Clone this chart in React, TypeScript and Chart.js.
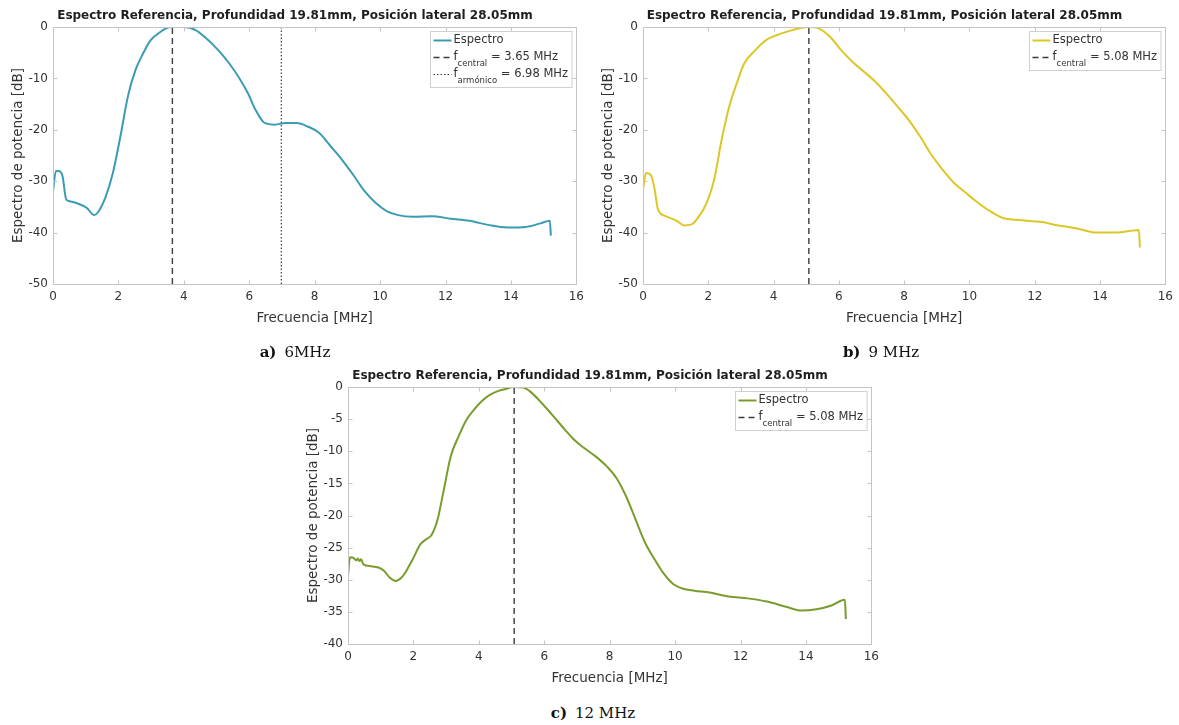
import React, { useEffect, useRef } from "react";
import { Chart, registerables } from "chart.js";

Chart.register(...registerables);

// ---- Spectrum data (frequency in MHz, power in dB) ----
const freqA = [0, 0.09, 0.17, 0.29, 0.4, 0.46, 0.69, 1.03, 1.26, 1.38, 1.6, 1.83, 2.06, 2.29, 2.52, 2.75, 2.98, 3.21, 3.44, 3.65, 3.8, 4.0, 4.36, 4.7, 5.05, 5.39, 5.73, 5.96, 6.19, 6.42, 6.54, 6.77, 7.11, 7.45, 7.8, 8.14, 8.49, 8.83, 9.17, 9.52, 9.86, 10.2, 10.55, 11.0, 11.58, 12.16, 12.73, 13.3, 13.88, 14.45, 14.9, 15.19, 15.22];
const dbA = [-32, -28, -28, -29, -33.5, -33.8, -34.2, -35.2, -36.6, -36, -33.2, -28.4, -21.3, -13.5, -8.4, -5.2, -2.6, -1.3, -0.3, 0, 0, 0, -0.6, -2.3, -4.5, -7.1, -10.3, -12.9, -16.1, -18.4, -18.8, -19, -18.7, -18.7, -19.4, -20.6, -23.2, -25.8, -28.7, -31.9, -34.2, -35.8, -36.6, -36.9, -36.8, -37.3, -37.7, -38.5, -39, -38.9, -38.2, -37.7, -40.6];

const freqB = [0, 0.09, 0.23, 0.34, 0.46, 0.69, 1.03, 1.26, 1.49, 1.72, 1.95, 2.18, 2.41, 2.64, 2.87, 3.1, 3.44, 3.78, 4.13, 4.47, 4.82, 5.08, 5.39, 5.73, 6.07, 6.42, 6.77, 7.11, 7.45, 7.8, 8.14, 8.49, 8.83, 9.17, 9.52, 9.86, 10.2, 10.55, 11.0, 11.58, 12.16, 12.73, 13.3, 13.88, 14.45, 14.9, 15.19, 15.22];
const dbB = [-31.6, -28.4, -28.7, -31, -35.5, -36.8, -37.7, -38.6, -38.4, -36.8, -34.2, -29.7, -21.9, -15.5, -11, -7.1, -4.5, -2.5, -1.5, -0.8, -0.2, 0, -0.3, -1.9, -4.5, -6.8, -8.7, -10.6, -12.9, -15.5, -18.1, -21.3, -24.8, -27.7, -30.3, -32.1, -33.9, -35.5, -37.1, -37.6, -37.9, -38.6, -39.2, -40, -40, -39.7, -39.5, -42.9];

const freqC = [0, 0.06, 0.17, 0.25, 0.3, 0.35, 0.4, 0.47, 0.7, 0.93, 1.1, 1.28, 1.46, 1.63, 1.75, 1.98, 2.21, 2.39, 2.56, 2.74, 2.91, 3.14, 3.38, 3.61, 3.84, 4.07, 4.31, 4.6, 4.83, 5.06, 5.36, 5.59, 5.94, 6.29, 6.64, 6.93, 7.22, 7.57, 7.92, 8.21, 8.5, 8.79, 9.08, 9.37, 9.66, 9.95, 10.24, 10.59, 11.06, 11.64, 12.22, 12.81, 13.39, 13.86, 14.32, 14.78, 15.19, 15.22];
const dbC = [-29.4, -26.5, -26.6, -27.0, -26.7, -27.1, -26.8, -27.6, -27.9, -28.1, -28.6, -29.7, -30.2, -29.7, -28.9, -26.8, -24.5, -23.7, -23, -20.6, -16.5, -10.8, -7.7, -5.2, -3.6, -2.3, -1.3, -0.6, -0.3, 0, -0.1, -0.8, -2.6, -4.6, -6.7, -8.3, -9.5, -10.8, -12.4, -14.2, -17, -20.6, -24.2, -26.8, -29.1, -30.7, -31.4, -31.7, -32, -32.6, -32.9, -33.4, -34.2, -34.8, -34.6, -34, -33.1, -36.1];

// Characteristic frequencies (MHz)
const centralA = 3.65;
const harmonicA = 6.98;
const centralB = 5.08;
const centralC = 5.08;

// Axis ticks
const xTicks = [0, 2, 4, 6, 8, 10, 12, 14, 16];
const yTicks50 = [0, -10, -20, -30, -40, -50];
const yTicks40 = [0, -5, -10, -15, -20, -25, -30, -35, -40];

const panelTitle = "Espectro Referencia, Profundidad 19.81mm, Posición lateral 28.05mm";
const xLabel = "Frecuencia [MHz]";
const yLabel = "Espectro de potencia [dB]";
const seriesName = "Espectro";

const FONT = "'DejaVu Sans', sans-serif";
const TEXT = "#333333";
const FRAME = "#c4c4c4";
const CANVAS_W = 590;
const CANVAS_H = 335;

type Marker = { freq: number; sub: string; dash: number[]; width: number };

type LegendRow = { color: string; dash: number[]; width: number; sub?: string; text: string };

const frameAndLegend = {
  id: "frameAndLegend",
  afterDraw(chart: any, _args: any, opts: any) {
    const { ctx, chartArea: a, scales } = chart;
    ctx.save();
    // axes box
    ctx.strokeStyle = FRAME;
    ctx.lineWidth = 1;
    const L = Math.round(a.left) + 0.5;
    const R = Math.round(a.right) + 0.5;
    const T = Math.round(a.top) + 0.5;
    const B = Math.round(a.bottom) + 0.5;
    ctx.strokeRect(L, T, R - L, B - T);
    // inward tick marks
    ctx.beginPath();
    const tl = 4;
    scales.x.ticks.forEach((t: any) => {
      const px = Math.round(scales.x.getPixelForValue(t.value)) + 0.5;
      ctx.moveTo(px, B); ctx.lineTo(px, B - tl);
      ctx.moveTo(px, T); ctx.lineTo(px, T + tl);
    });
    scales.y.ticks.forEach((t: any) => {
      const py = Math.round(scales.y.getPixelForValue(t.value)) + 0.5;
      ctx.moveTo(L, py); ctx.lineTo(L + tl, py);
      ctx.moveTo(R, py); ctx.lineTo(R - tl, py);
    });
    ctx.stroke();

    // title
    ctx.fillStyle = "#1e1e1e";
    ctx.font = `bold 12px ${FONT}`;
    ctx.textAlign = "center";
    ctx.textBaseline = "middle";
    ctx.fillText(panelTitle, chart.width / 2, 16);

    // legend
    const rows: LegendRow[] = opts.rows;
    const mainFont = `11.5px ${FONT}`;
    const subFont = `8.5px ${FONT}`;
    const sample = 18;
    const widths = rows.map((r) => {
      ctx.font = mainFont;
      let w = 0;
      if (r.sub) {
        w += ctx.measureText("f").width;
        ctx.font = subFont;
        w += ctx.measureText(r.sub).width;
        ctx.font = mainFont;
      }
      w += ctx.measureText(r.text).width;
      return w;
    });
    const boxW = 3 + sample + 2 + Math.max(...widths) + 4;
    const boxH = 10 + 17 * (rows.length - 1) + 12;
    const bx = Math.round(a.right - 5 - boxW) + 0.5;
    const by = Math.round(a.top + 4) + 0.5;
    ctx.fillStyle = "#ffffff";
    ctx.fillRect(bx, by, boxW, boxH);
    ctx.strokeStyle = "#d0d0d0";
    ctx.strokeRect(bx, by, boxW, boxH);
    rows.forEach((r, i) => {
      const cy = by + 9 + 17 * i;
      ctx.strokeStyle = r.color;
      ctx.lineWidth = r.width;
      ctx.setLineDash(r.dash);
      ctx.beginPath();
      ctx.moveTo(bx + 3, cy);
      ctx.lineTo(bx + 3 + sample, cy);
      ctx.stroke();
      ctx.setLineDash([]);
      let x = bx + 3 + sample + 2;
      ctx.fillStyle = TEXT;
      ctx.textAlign = "left";
      ctx.textBaseline = "middle";
      ctx.font = mainFont;
      if (r.sub) {
        ctx.fillText("f", x, cy);
        x += ctx.measureText("f").width;
        ctx.font = subFont;
        ctx.fillText(r.sub, x, cy + 6);
        x += ctx.measureText(r.sub).width;
        ctx.font = mainFont;
      }
      ctx.fillText(r.text, x, cy);
    });
    ctx.restore();
  },
};

interface PanelProps {
  left: number;
  top: number;
  width: number;
  freq: number[];
  db: number[];
  color: string;
  yTicks: number[];
  markers: Marker[];
}

function SpectrumPanel({ left, top, width, freq, db, color, yTicks, markers }: PanelProps) {
  const ref = useRef<HTMLCanvasElement | null>(null);

  useEffect(() => {
    if (!ref.current) return;
    const yMin = Math.min(...yTicks);
    const yMax = Math.max(...yTicks);
    const datasets: any[] = [
      {
        label: seriesName,
        data: freq.map((f, i) => ({ x: f, y: db[i] })),
        borderColor: color,
        borderWidth: 2,
        pointRadius: 0,
        cubicInterpolationMode: "monotone",
        fill: false,
      },
      ...markers.map((m) => ({
        label: `f${m.sub}`,
        data: [
          { x: m.freq, y: yMin },
          { x: m.freq, y: yMax },
        ],
        borderColor: "#3a3a3a",
        borderWidth: m.width,
        borderDash: m.dash,
        pointRadius: 0,
        fill: false,
      })),
    ];
    const legendRows: LegendRow[] = [
      { color, dash: [], width: 2, text: seriesName },
      ...markers.map((m) => ({
        color: "#3a3a3a",
        dash: m.dash,
        width: m.width,
        sub: m.sub,
        text: ` = ${m.freq.toFixed(2)} MHz`,
      })),
    ];
    const tickFont = { family: FONT, size: 12 };
    const chart = new Chart(ref.current, {
      type: "line",
      data: { datasets },
      plugins: [frameAndLegend],
      options: {
        animation: false,
        responsive: false,
        maintainAspectRatio: false,
        devicePixelRatio: 1,
        layout: { padding: { top: 27, right: 11, left: 0, bottom: 0 } },
        plugins: {
          legend: { display: false },
          tooltip: { enabled: false },
          title: { display: false },
          frameAndLegend: { rows: legendRows },
        } as any,
        scales: {
          x: {
            type: "linear",
            min: 0,
            max: 16,
            afterBuildTicks: (s: any) => {
              s.ticks = xTicks.map((v) => ({ value: v }));
            },
            afterFit: (s: any) => {
              s.height = 51;
            },
            grid: { display: false, drawTicks: false },
            border: { display: false },
            ticks: { color: TEXT, font: tickFont, padding: 6, maxRotation: 0 },
            title: {
              display: true,
              text: xLabel,
              color: TEXT,
              font: { family: FONT, size: 13.5 },
              padding: { top: 0, bottom: 8 },
            },
          },
          y: {
            type: "linear",
            min: yMin,
            max: yMax,
            afterBuildTicks: (s: any) => {
              s.ticks = [...yTicks].sort((p, q) => p - q).map((v) => ({ value: v }));
            },
            afterFit: (s: any) => {
              s.width = 53;
            },
            grid: { display: false, drawTicks: false },
            border: { display: false },
            ticks: { color: TEXT, font: tickFont, padding: 5 },
            title: {
              display: true,
              text: yLabel,
              color: TEXT,
              font: { family: FONT, size: 13.5 },
              padding: { top: 10, bottom: 0 },
            },
          },
        },
      } as any,
    });
    return () => chart.destroy();
  }, [freq, db, color, yTicks, markers]);

  return (
    <canvas
      ref={ref}
      width={width}
      height={CANVAS_H}
      style={{ position: "absolute", left, top, width, height: CANVAS_H }}
    />
  );
}

const captionStyle: React.CSSProperties = {
  position: "absolute",
  transform: "translateX(-50%)",
  fontFamily: "'DejaVu Serif', 'Liberation Serif', serif",
  fontSize: 15,
  color: "#111",
  whiteSpace: "nowrap",
};

const captionTag: React.CSSProperties = { fontWeight: "bold", marginRight: 8 };

const dashedMarker = [6, 4];
const dottedMarker = [1.5, 2];

const markersA: Marker[] = [
  { freq: centralA, sub: "central", dash: dashedMarker, width: 1.4 },
  { freq: harmonicA, sub: "armónico", dash: dottedMarker, width: 1.2 },
];
const markersB: Marker[] = [{ freq: centralB, sub: "central", dash: dashedMarker, width: 1.4 }];
const markersC: Marker[] = [{ freq: centralC, sub: "central", dash: dashedMarker, width: 1.4 }];

export default function App() {
  return (
    <div
      style={{
        position: "fixed",
        left: 0,
        top: 0,
        width: 1179,
        height: 725,
        overflow: "hidden",
        background: "#ffffff",
      }}
    >
      <SpectrumPanel left={0} top={0} width={CANVAS_W} freq={freqA} db={dbA} color="#3a9cb2" yTicks={yTicks50} markers={markersA} />
      <SpectrumPanel left={590} top={0} width={589} freq={freqB} db={dbB} color="#dcc726" yTicks={yTicks50} markers={markersB} />
      <SpectrumPanel left={295} top={360} width={CANVAS_W} freq={freqC} db={dbC} color="#7a9c2c" yTicks={yTicks40} markers={markersC} />
      <div style={{ ...captionStyle, left: 295, top: 343 }}>
        <span style={captionTag}>a)</span>6MHz
      </div>
      <div style={{ ...captionStyle, left: 881, top: 343 }}>
        <span style={captionTag}>b)</span>9 MHz
      </div>
      <div style={{ ...captionStyle, left: 593, top: 704 }}>
        <span style={captionTag}>c)</span>12 MHz
      </div>
    </div>
  );
}
